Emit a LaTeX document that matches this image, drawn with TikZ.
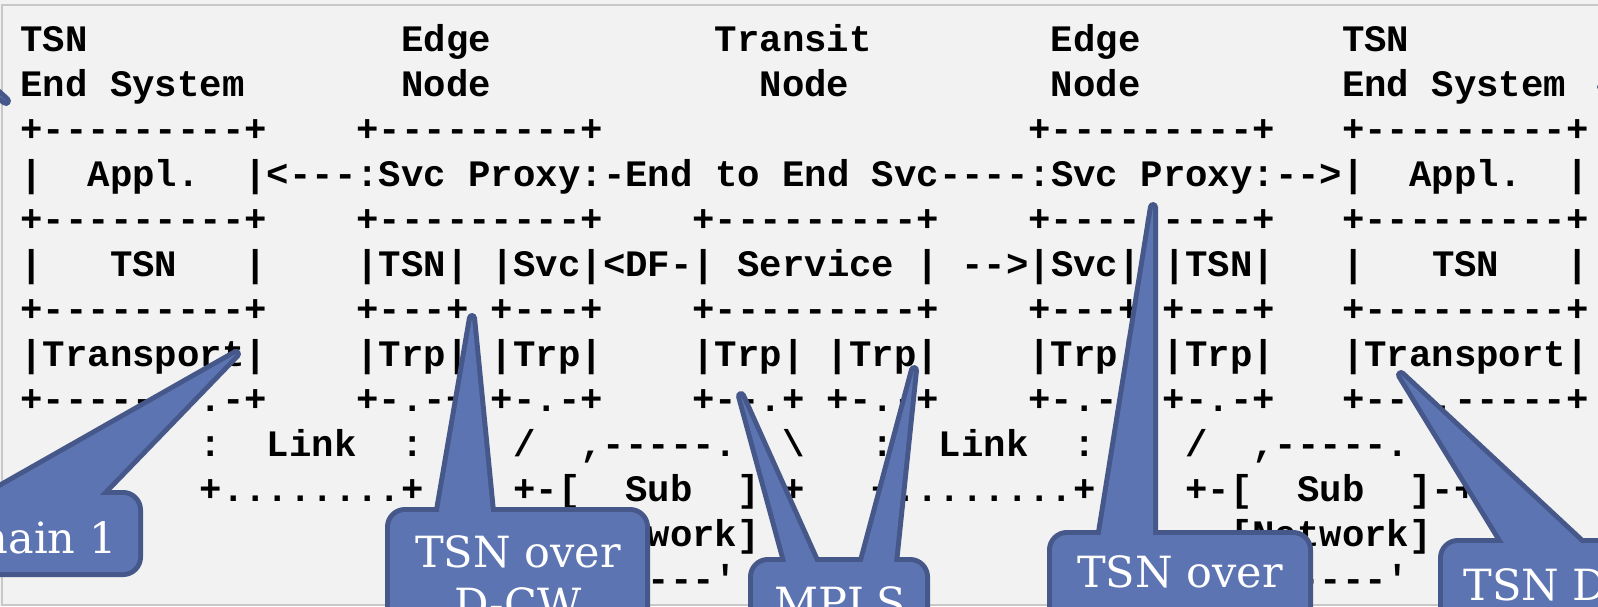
\documentclass[tikz,border=0pt]{standalone}
\usepackage{fontspec}
\setmonofont{Liberation Mono}
\newfontfamily\kastenfont{DejaVu Serif}
\definecolor{hintergrund}{RGB}{242,242,242}
\definecolor{rahmengrau}{RGB}{200,200,200}
\definecolor{kastenblau}{RGB}{93,116,178}
\definecolor{kastenrand}{RGB}{70,88,138}
% Spalte im ASCII-Raster (in px)
\newcommand{\spalte}[1]{20.5+22.4*#1}
\tikzset{
  ascii/.style={anchor=base west, inner sep=0pt, outer sep=0pt,
    font=\fontsize{18.67}{22}\selectfont\ttfamily\bfseries},
  kastenstrich/.style={draw=kastenrand, line width=5pt, rounded corners=7.5pt},
  zungenstrich/.style={draw=kastenrand, line width=5pt, line join=round},
  kastenflaeche/.style={fill=kastenblau, rounded corners=7.5pt},
  zungenflaeche/.style={fill=kastenblau},
  kastentext/.style={anchor=base, inner sep=0pt, text=white,
    font=\fontsize{21.5}{26}\selectfont\kastenfont},
}
\begin{document}
\begin{tikzpicture}[x=0.5pt, y=-0.5pt]
% Rahmen
\useasboundingbox (0,0) rectangle (1598,606);
\clip (0,0) rectangle (1598,606);
\fill[hintergrund] (0,0) rectangle (1598,606);
\draw[rahmengrau, line width=1pt] (1.5,606) -- (1.5,5) -- (1598,5);
\draw[rahmengrau, line width=1pt] (1.5,604.5) -- (1598,604.5);

% ASCII-Zeilen
\node[ascii] (z1a) at ({\spalte{0}},51.7) {TSN};
\node[ascii] (z1b) at ({\spalte{17}},51.7) {Edge};
\node[ascii] (z1c) at ({\spalte{31}},51.7) {Transit};
\node[ascii] (z1d) at ({\spalte{46}},51.7) {Edge};
\node[ascii] (z1e) at ({\spalte{59}},51.7) {TSN};
\node[ascii] (z2a) at ({\spalte{0}},96.7) {End System};
\node[ascii] (z2b) at ({\spalte{17}},96.7) {Node};
\node[ascii] (z2c) at ({\spalte{33}},96.7) {Node};
\node[ascii] (z2d) at ({\spalte{46}},96.7) {Node};
\node[ascii] (z2e) at ({\spalte{59}},96.7) {End System};
\foreach \c in {0,15,45,59}
  \node[ascii] (z3-\c) at ({\spalte{\c}},141.7) {+---------+};
\node[ascii] (z4) at ({\spalte{0}},186.7)
  {|~~Appl.~~|<---:Svc~Proxy:-End~to~End~Svc----:Svc~Proxy:-->|~~Appl.~~|};
\foreach \c in {0,15,30,45,59}
  \node[ascii] (z5-\c) at ({\spalte{\c}},231.7) {+---------+};
\node[ascii] (z6) at ({\spalte{0}},276.7)
  {|~~~TSN~~~|~~~~|TSN|~|Svc|<DF-|~Service~|~-->|Svc|~|TSN|~~~|~~~TSN~~~|};
\foreach \c/\t in {0/{+---------+}, 15/{+---+~+---+}, 30/{+---------+}, 45/{+---+~+---+}, 59/{+---------+}}
  \node[ascii] (z7-\c) at ({\spalte{\c}},321.7) {\t};
\foreach \c/\t in {0/{|Transport|}, 15/{|Trp|~|Trp|}, 30/{|Trp|~|Trp|}, 45/{|Trp|~|Trp|}, 59/{|Transport|}}
  \node[ascii] (z8-\c) at ({\spalte{\c}},366.7) {\t};
\foreach \c/\t in {0/{+-------.-+}, 15/{+-.-+~+-.-+}, 30/{+--.+~+-.-+}, 45/{+-.-+~+-.-+}, 59/{+---.-----+}}
  \node[ascii] (z9-\c) at ({\spalte{\c}},411.7) {\t};
\foreach \c/\t in {8/{:~~Link~~:}, 22/{/~~,-----.~~\textbackslash}, 38/{:~~Link~~:}, 52/{/~~,-----.}}
  \node[ascii] (z10-\c) at ({\spalte{\c}},456.7) {\t};
\foreach \c/\t in {8/{+........+}, 22/{+-[~~Sub~~]-+}, 38/{+........+}, 52/{+-[~~Sub~~]-+}}
  \node[ascii] (z11-\c) at ({\spalte{\c}},501.7) {\t};
\foreach \c in {24,54}
  \node[ascii] (z12-\c) at ({\spalte{\c}},546.7) {[Network]};
\foreach \c in {25,55}
  \node[ascii] (z13-\c) at ({\spalte{\c}},591.7) {`-----'};

% Sprechblasen: Ecken der Kaesten
\coordinate (kA1) at (-195,495);  \coordinate (kA2) at (138,572);
\coordinate (kB1) at (390,512);   \coordinate (kB2) at (645,700);
\coordinate (kC1) at (753,562);   \coordinate (kC2) at (925,700);
\coordinate (kD1) at (1052,535);  \coordinate (kD2) at (1308,700);
\coordinate (kE1) at (1443,543);  \coordinate (kE2) at (1900,700);
% Spitzen der Zungen
\coordinate (sA) at (236,354);
\coordinate (sB) at (472,318);
\coordinate (sC1) at (741,396);
\coordinate (sC2) at (914,370);
\coordinate (sD) at (1153,207);
\coordinate (sE) at (1401,375);
\coordinate (sF) at (6,101);
\coordinate (sG) at (1602,87);

% Rand zeichnen
\foreach \k in {A,B,C,D,E}
  \draw[kastenstrich] (k\k1) rectangle (k\k2);
\foreach \s/\xa/\ya/\xb/\yb in {sA/-30/505/90/505, sB/437/522/492/522, sC1/789/572/820/572,
    sC2/860/572/893/572, sD/1099/545/1153/545, sE/1510/553/1592/553,
    sF/-130/5/-118/-11, sG/1720/80/1720/95}
  \draw[zungenstrich] (\xa,\ya) -- (\s) -- (\xb,\yb) -- cycle;
% Flaeche fuellen
\foreach \k in {A,B,C,D,E}
  \fill[kastenflaeche] (k\k1) rectangle (k\k2);
\foreach \s/\xa/\ya/\xb/\yb in {sA/-30/505/90/505, sB/437/522/492/522, sC1/789/572/820/572,
    sC2/860/572/893/572, sD/1099/545/1153/545, sE/1510/553/1592/553,
    sF/-130/5/-118/-11, sG/1720/80/1720/95}
  \fill[zungenflaeche] (\xa,\ya) -- (\s) -- (\xb,\yb) -- cycle;

% Beschriftung
\node[kastentext, anchor=base east] (tA) at (117,553) {TSN Domain 1};
\node[kastentext] (tB1) at (518,567) {TSN over};
\node[kastentext] (tB2) at (518,619) {D-CW};
\node[kastentext] (tC) at (840,618) {MPLS};
\node[kastentext] (tD) at (1180,587) {TSN over};
\node[kastentext, anchor=base west] (tE) at (1463,600) {TSN Domain 2};
\end{tikzpicture}
\end{document}
